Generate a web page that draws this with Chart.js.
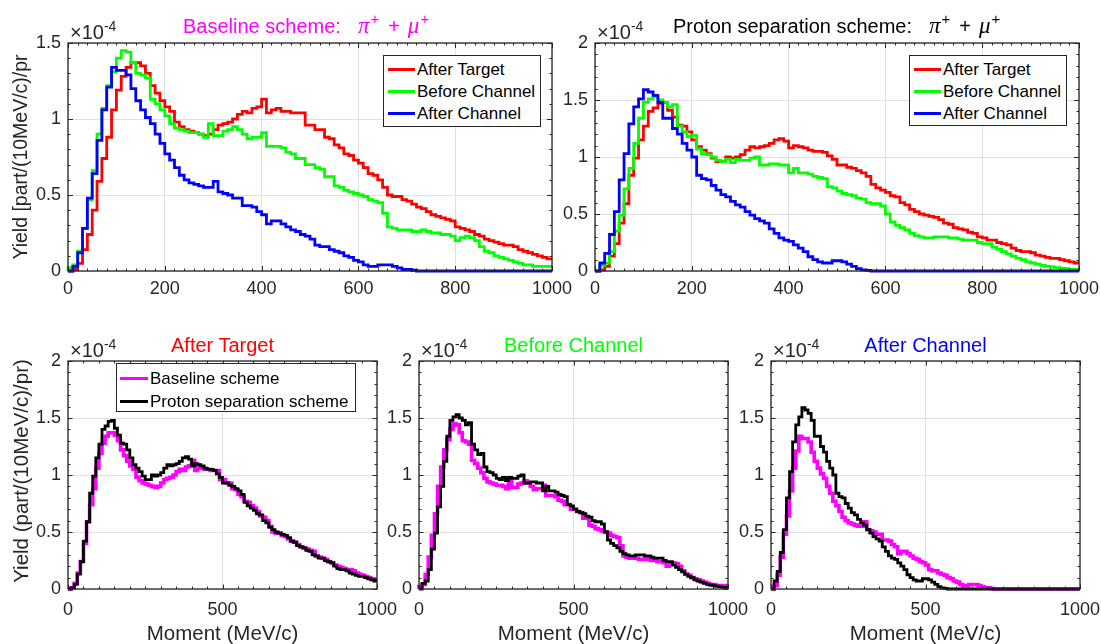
<!DOCTYPE html>
<html>
<head>
<meta charset="utf-8">
<title>Pion + muon yield vs momentum</title>
<script src="https://cdn.jsdelivr.net/npm/chart.js@4.4.1/dist/chart.umd.min.js"></script>
<style>
  html, body { margin: 0; padding: 0; background: #fff; }
  body { position: relative; width: 1101px; height: 644px; overflow: hidden;
         font-family: 'Liberation Sans', Arial, Helvetica, sans-serif; color: #262626; }
  canvas { position: absolute; }
  .txt { position: absolute; white-space: nowrap; }
  .title { font-size: 20px; line-height: 20px; color: #000; }
  .title i { font-family: 'Liberation Serif', 'DejaVu Serif', serif; font-style: italic; font-size: 23px; }
  .title .sup { font-size: 15px; position: relative; top: -9px; margin-left: 1px; }
  .title .op { margin: 0 8px 0 9px; }
  .exp { font-size: 20px; line-height: 20px; }
  .exp .sup { font-size: 14px; position: relative; top: -8px; }
  .xlabel { font-size: 20.5px; line-height: 20.5px; text-align: center; }
  .ylabel { font-size: 19.5px; line-height: 19.5px; transform: translate(-50%, -50%) rotate(-90deg); }
  .legend { position: absolute; background: #fff; border: 1px solid #262626; box-sizing: border-box; }
  .legend .row { position: absolute; left: 0; right: 0; height: 20px; line-height: 20px;
                 font-size: 17px; color: #000; white-space: nowrap; }
  .legend .swatch { position: absolute; top: 8.5px; height: 3px; }
  .legend .name { position: absolute; left: 33px; top: 0; }
</style>
</head>
<body>
<script>
/* =========================================================================
   DATA — yield per 10 MeV/c bin, in units of 1e-4 part/(10MeV/c)/pr
   bins run 0-10, 10-20, ... 990-1000 MeV/c
   ========================================================================= */

var BIN_WIDTH = 10;            // MeV/c
var MOMENT_RANGE = [0, 1000];  // MeV/c

// Baseline scheme
var baselineAfterTarget = [
  0.00, 0.01, 0.05, 0.14, 0.24, 0.40, 0.59, 0.74, 0.88, 1.06,
  1.19, 1.28, 1.34, 1.37, 1.37, 1.35, 1.30, 1.22, 1.17, 1.12,
  1.08, 1.05, 0.98, 0.95, 0.93, 0.92, 0.91, 0.90, 0.89, 0.90,
  0.93, 0.96, 0.97, 0.98, 1.00, 1.03, 1.05, 1.04, 1.07, 1.08,
  1.13, 1.04, 1.06, 1.07, 1.05, 1.05, 1.04, 1.04, 1.04, 0.96,
  0.96, 0.93, 0.93, 0.88, 0.87, 0.83, 0.81, 0.77, 0.76, 0.73,
  0.71, 0.68, 0.64, 0.63, 0.60, 0.55, 0.50, 0.49, 0.49, 0.47,
  0.46, 0.44, 0.42, 0.41, 0.39, 0.37, 0.36, 0.35, 0.34, 0.33,
  0.29, 0.28, 0.27, 0.26, 0.24, 0.23, 0.21, 0.20, 0.19, 0.18,
  0.17, 0.17, 0.16, 0.14, 0.13, 0.12, 0.11, 0.10, 0.09, 0.08
];
var baselineBeforeChannel = [
  0.02, 0.04, 0.13, 0.28, 0.47, 0.66, 0.90, 1.07, 1.22, 1.31,
  1.40, 1.45, 1.44, 1.37, 1.30, 1.29, 1.27, 1.13, 1.10, 1.06,
  1.02, 0.97, 0.94, 0.93, 0.92, 0.91, 0.91, 0.90, 0.88, 0.97,
  0.89, 0.89, 0.92, 0.93, 0.95, 0.93, 0.90, 0.87, 0.88, 0.88,
  0.91, 0.82, 0.82, 0.82, 0.81, 0.78, 0.77, 0.74, 0.74, 0.70,
  0.70, 0.68, 0.67, 0.62, 0.62, 0.56, 0.55, 0.53, 0.52, 0.51,
  0.50, 0.49, 0.47, 0.46, 0.45, 0.38, 0.29, 0.28, 0.27, 0.27,
  0.27, 0.26, 0.26, 0.27, 0.26, 0.25, 0.25, 0.24, 0.24, 0.23,
  0.20, 0.22, 0.23, 0.22, 0.20, 0.16, 0.13, 0.12, 0.10, 0.09,
  0.08, 0.07, 0.06, 0.05, 0.04, 0.04, 0.03, 0.03, 0.03, 0.03
];
var baselineAfterChannel = [
  0.00, 0.03, 0.12, 0.28, 0.48, 0.64, 0.86, 1.06, 1.21, 1.34,
  1.32, 1.32, 1.29, 1.20, 1.12, 1.06, 1.01, 0.97, 0.90, 0.84,
  0.77, 0.73, 0.68, 0.63, 0.60, 0.58, 0.57, 0.56, 0.55, 0.55,
  0.59, 0.52, 0.51, 0.50, 0.48, 0.48, 0.43, 0.43, 0.42, 0.39,
  0.37, 0.31, 0.33, 0.33, 0.31, 0.29, 0.27, 0.26, 0.24, 0.23,
  0.21, 0.17, 0.16, 0.16, 0.14, 0.13, 0.12, 0.10, 0.09, 0.07,
  0.06, 0.04, 0.03, 0.03, 0.04, 0.04, 0.04, 0.03, 0.02, 0.01,
  0.01, 0.005, 0, 0, 0, 0, 0, 0, 0, 0,
  0, 0, 0, 0, 0, 0, 0, 0, 0, 0,
  0, 0, 0, 0, 0, 0, 0, 0, 0, 0
];

// Proton separation scheme
var protonAfterTarget = [
  0.00, 0.01, 0.04, 0.13, 0.24, 0.42, 0.59, 0.84, 0.99, 1.15,
  1.27, 1.40, 1.43, 1.47, 1.48, 1.41, 1.35, 1.28, 1.27, 1.22,
  1.15, 1.09, 1.06, 1.03, 0.99, 0.96, 0.96, 1.00, 0.99, 1.00,
  1.02, 1.06, 1.09, 1.08, 1.09, 1.10, 1.12, 1.15, 1.16, 1.14,
  1.08, 1.10, 1.09, 1.08, 1.06, 1.05, 1.05, 1.04, 1.01, 0.98,
  0.93, 0.93, 0.91, 0.90, 0.88, 0.86, 0.83, 0.76, 0.73, 0.71,
  0.69, 0.66, 0.65, 0.60, 0.58, 0.54, 0.52, 0.50, 0.49, 0.48,
  0.47, 0.45, 0.42, 0.41, 0.38, 0.37, 0.36, 0.34, 0.33, 0.30,
  0.29, 0.27, 0.27, 0.25, 0.24, 0.23, 0.20, 0.18, 0.17, 0.17,
  0.16, 0.14, 0.13, 0.12, 0.11, 0.11, 0.10, 0.09, 0.08, 0.07
];
var protonBeforeChannel = [
  0.00, 0.05, 0.07, 0.17, 0.35, 0.49, 0.72, 0.90, 1.12, 1.34,
  1.48, 1.51, 1.53, 1.50, 1.48, 1.44, 1.46, 1.27, 1.22, 1.18,
  1.19, 1.07, 1.03, 1.02, 1.00, 0.97, 0.96, 0.98, 0.95, 0.98,
  0.97, 0.97, 0.99, 1.00, 0.93, 0.93, 0.94, 0.94, 0.93, 0.93,
  0.86, 0.90, 0.86, 0.86, 0.85, 0.83, 0.82, 0.81, 0.74, 0.73,
  0.70, 0.68, 0.67, 0.66, 0.64, 0.63, 0.60, 0.59, 0.59, 0.57,
  0.50, 0.43, 0.40, 0.38, 0.36, 0.33, 0.31, 0.30, 0.29, 0.29,
  0.30, 0.30, 0.30, 0.29, 0.29, 0.28, 0.27, 0.27, 0.27, 0.25,
  0.24, 0.24, 0.21, 0.19, 0.17, 0.15, 0.13, 0.11, 0.10, 0.08,
  0.07, 0.06, 0.05, 0.04, 0.035, 0.03, 0.025, 0.02, 0.015, 0.015
];
var protonAfterChannel = [
  0.00, 0.07, 0.155, 0.32, 0.52, 0.80, 1.03, 1.29, 1.44, 1.51,
  1.59, 1.57, 1.54, 1.48, 1.34, 1.34, 1.25, 1.20, 1.12, 1.06,
  1.00, 0.84, 0.81, 0.80, 0.75, 0.71, 0.67, 0.65, 0.61, 0.58,
  0.56, 0.52, 0.49, 0.46, 0.44, 0.42, 0.37, 0.33, 0.29, 0.27,
  0.26, 0.23, 0.20, 0.17, 0.125, 0.10, 0.08, 0.07, 0.07, 0.09,
  0.09, 0.08, 0.06, 0.04, 0.02, 0.01, 0.005, 0, 0, 0,
  0, 0, 0, 0, 0, 0, 0, 0, 0, 0,
  0, 0, 0, 0, 0, 0, 0, 0, 0, 0,
  0, 0, 0, 0, 0, 0, 0, 0, 0, 0,
  0, 0, 0, 0, 0, 0, 0, 0, 0, 0
];

// Axis ticks
var topXTicks = [0, 200, 400, 600, 800, 1000];
var bottomXTicks = [0, 500, 1000];
var yTicksBaseline = [0, 0.5, 1, 1.5];
var yTicksFull = [0, 0.5, 1, 1.5, 2];

// Legend / title labels
var stageNames = ['After Target', 'Before Channel', 'After Channel'];
var schemeNames = ['Baseline scheme', 'Proton separation scheme'];

/* =========================================================================
   LAYOUT CONSTANTS
   ========================================================================= */

var PAD_L = 60, PAD_T = 14, PAD_R = 24, PAD_B = 40;
var AXIS_COLOR = '#262626';
var GRID_COLOR = '#dfdfdf';
var FONT = "'Liberation Sans', Arial, Helvetica, sans-serif";

/* =========================================================================
   HELPERS
   ========================================================================= */

// histogram values -> stair outline points
function toStairs(values) {
  var pts = [{ x: MOMENT_RANGE[0], y: 0 }];
  for (var i = 0; i < values.length; i++) {
    pts.push({ x: i * BIN_WIDTH, y: values[i] });
    pts.push({ x: (i + 1) * BIN_WIDTH, y: values[i] });
  }
  return pts;
}

function addText(cls, html, css) {
  var d = document.createElement('div');
  d.className = 'txt ' + cls;
  d.innerHTML = html;
  for (var k in css) d.style[k] = css[k];
  document.body.appendChild(d);
  return d;
}

// inward major/minor ticks + axes box, MATLAB style
var matlabBox = {
  id: 'matlabBox',
  afterDatasetsDraw: function (chart, args, o) {
    var ctx = chart.ctx, a = chart.chartArea;
    var xs = chart.scales.x, ys = chart.scales.y;
    ctx.save();
    ctx.strokeStyle = AXIS_COLOR;
    ctx.lineWidth = 1;
    ctx.beginPath();

    function xTick(v, len) {
      var px = Math.round(xs.getPixelForValue(v)) + 0.5;
      ctx.moveTo(px, a.bottom); ctx.lineTo(px, a.bottom - len);
      ctx.moveTo(px, a.top); ctx.lineTo(px, a.top + len);
    }
    function yTick(v, len) {
      var py = Math.round(ys.getPixelForValue(v)) + 0.5;
      ctx.moveTo(a.left, py); ctx.lineTo(a.left + len, py);
      ctx.moveTo(a.right, py); ctx.lineTo(a.right - len, py);
    }
    var v;
    for (v = xs.min; v <= xs.max + 1e-9; v += o.xMinor) xTick(v, o.minorLen);
    for (v = ys.min; v <= ys.max + 1e-9; v += o.yMinor) yTick(v, o.minorLen);
    o.xTicks.forEach(function (t) { xTick(t, o.majorLen); });
    o.yTicks.forEach(function (t) { yTick(t, o.majorLen); });
    ctx.stroke();

    ctx.lineWidth = 1.3;
    ctx.strokeRect(a.left, a.top, a.right - a.left, a.bottom - a.top);
    ctx.restore();
  }
};

/* =========================================================================
   PANEL BUILDER
   ========================================================================= */

function makePanel(p) {
  var l = p.box[0], t = p.box[1], w = p.box[2], h = p.box[3];
  var canvas = document.createElement('canvas');
  canvas.width = w + PAD_L + PAD_R;
  canvas.height = h + PAD_T + PAD_B;
  canvas.style.left = (l - PAD_L) + 'px';
  canvas.style.top = (t - PAD_T) + 'px';
  document.body.appendChild(canvas);

  var datasets = p.series.map(function (s) {
    return {
      data: toStairs(s.values),
      borderColor: s.color,
      borderWidth: s.width,
      borderJoinStyle: 'miter',
      borderCapStyle: 'butt',
      pointRadius: 0,
      fill: false,
      tension: 0,
      order: s.order,
      clip: 4
    };
  });

  var tickFont = { family: FONT, size: 18 };

  new Chart(canvas, {
    type: 'line',
    data: { datasets: datasets },
    plugins: [matlabBox],
    options: {
      responsive: false,
      animation: false,
      events: [],
      layout: { padding: { left: 0, top: PAD_T, right: PAD_R, bottom: 0 } },
      plugins: {
        legend: { display: false },
        tooltip: { enabled: false },
        matlabBox: {
          xTicks: p.xTicks, yTicks: p.yTicks,
          xMinor: p.xMinor, yMinor: 0.1,
          majorLen: p.majorLen, minorLen: p.minorLen
        }
      },
      scales: {
        x: {
          type: 'linear',
          min: MOMENT_RANGE[0], max: MOMENT_RANGE[1],
          afterBuildTicks: function (s) {
            s.ticks = p.xTicks.map(function (v) { return { value: v }; });
          },
          afterFit: function (s) { s.height = PAD_B; s.paddingLeft = 0; s.paddingRight = 0; },
          grid: { color: GRID_COLOR, lineWidth: 1, drawTicks: false },
          border: { display: false },
          ticks: {
            autoSkip: false, maxRotation: 0, padding: p.xPad,
            font: tickFont, color: AXIS_COLOR,
            callback: function (v) { return String(v); }
          }
        },
        y: {
          type: 'linear',
          min: 0, max: p.yMax,
          afterBuildTicks: function (s) {
            s.ticks = p.yTicks.map(function (v) { return { value: v }; });
          },
          afterFit: function (s) { s.width = PAD_L; s.paddingTop = 0; s.paddingBottom = 0; },
          grid: { color: GRID_COLOR, lineWidth: 1, drawTicks: false },
          border: { display: false },
          ticks: {
            autoSkip: false, padding: 7,
            font: tickFont, color: AXIS_COLOR,
            callback: function (v) { return String(v); }
          }
        }
      }
    }
  });

  // x10^-4 exponent label above the box
  addText('exp', '&times;10<span class="sup">-4</span>',
    { left: (l + 2) + 'px', top: (t - 21) + 'px' });
}

function makeLegend(box, rows, rowStep, firstRow, swatchLeft, swatchWidth) {
  var lg = document.createElement('div');
  lg.className = 'legend';
  lg.style.left = box[0] + 'px';
  lg.style.top = box[1] + 'px';
  lg.style.width = box[2] + 'px';
  lg.style.height = box[3] + 'px';
  rows.forEach(function (r, i) {
    var row = document.createElement('div');
    row.className = 'row';
    row.style.top = (firstRow + i * rowStep - 10) + 'px';
    row.innerHTML = '<span class="swatch" style="left:' + swatchLeft + 'px;width:' + swatchWidth +
      'px;background:' + r.color + '"></span><span class="name">' + r.label + '</span>';
    lg.appendChild(row);
  });
  document.body.appendChild(lg);
}

/* =========================================================================
   BUILD FIGURE
   ========================================================================= */

var RED = '#ff0000', GREEN = '#00ff00', BLUE = '#0000ff', MAGENTA = '#ff00ff', BLACK = '#000000';

function topPanel(x, yMax, yTicks, values) {
  return {
    box: [x, 43, 484, 228], yMax: yMax, yTicks: yTicks,
    xTicks: topXTicks, xMinor: 20, xPad: 7, majorLen: 5, minorLen: 2.5,
    series: [
      { values: values[0], color: RED, width: 2.8, order: 2 },
      { values: values[1], color: GREEN, width: 2.8, order: 1 },
      { values: values[2], color: BLUE, width: 2.8, order: 0 }
    ]
  };
}

function bottomPanel(x, base, proton) {
  return {
    box: [x, 361, 309, 228], yMax: 2, yTicks: yTicksFull,
    xTicks: bottomXTicks, xMinor: 50, xPad: 10, majorLen: 4.5, minorLen: 2.5,
    series: [
      { values: base, color: MAGENTA, width: 3.6, order: 1 },
      { values: proton, color: BLACK, width: 2.8, order: 0 }
    ]
  };
}

makePanel(topPanel(68, 1.5, yTicksBaseline,
  [baselineAfterTarget, baselineBeforeChannel, baselineAfterChannel]));
makePanel(topPanel(595, 2, yTicksFull,
  [protonAfterTarget, protonBeforeChannel, protonAfterChannel]));
makePanel(bottomPanel(68, baselineAfterTarget, protonAfterTarget));
makePanel(bottomPanel(419, baselineBeforeChannel, protonBeforeChannel));
makePanel(bottomPanel(771, baselineAfterChannel, protonAfterChannel));

// titles
var pimu = '<i style="margin-left:17px">&pi;</i><span class="sup">+</span>' +
  '<span class="op">+</span><i>&mu;</i><span class="sup">+</span>';
addText('title', schemeNames[0] + ':' + pimu,
  { left: '183px', top: '16px', color: MAGENTA });
addText('title', schemeNames[1] + ':' + pimu,
  { left: '673px', top: '16px' });

var stageColors = [RED, GREEN, BLUE];
[68, 419, 771].forEach(function (x, i) {
  addText('title', stageNames[i],
    { left: x + 'px', width: '309px', textAlign: 'center', top: '335px', color: stageColors[i] });
  addText('xlabel', 'Moment (MeV/c)',
    { left: x + 'px', width: '309px', top: '623px' });
});

// y labels
addText('ylabel', 'Yield [part/(10MeV/c)/pr', { left: '20.5px', top: '157px' });
addText('ylabel', 'Yield (part/(10MeV/c)/pr)', { left: '20.5px', top: '471px', fontSize: '20.5px' });

// legends
var stageRows = [
  { label: stageNames[0], color: RED },
  { label: stageNames[1], color: GREEN },
  { label: stageNames[2], color: BLUE }
];
makeLegend([383, 55, 158, 72], stageRows, 22, 13.5, 4, 26.5);
makeLegend([909, 55, 158, 71], stageRows, 22, 13.5, 4, 26.5);
makeLegend([116, 363, 240, 49], [
  { label: schemeNames[0], color: MAGENTA },
  { label: schemeNames[1], color: BLACK }
], 23, 14.5, 2.5, 28.5);
</script>
</body>
</html>
